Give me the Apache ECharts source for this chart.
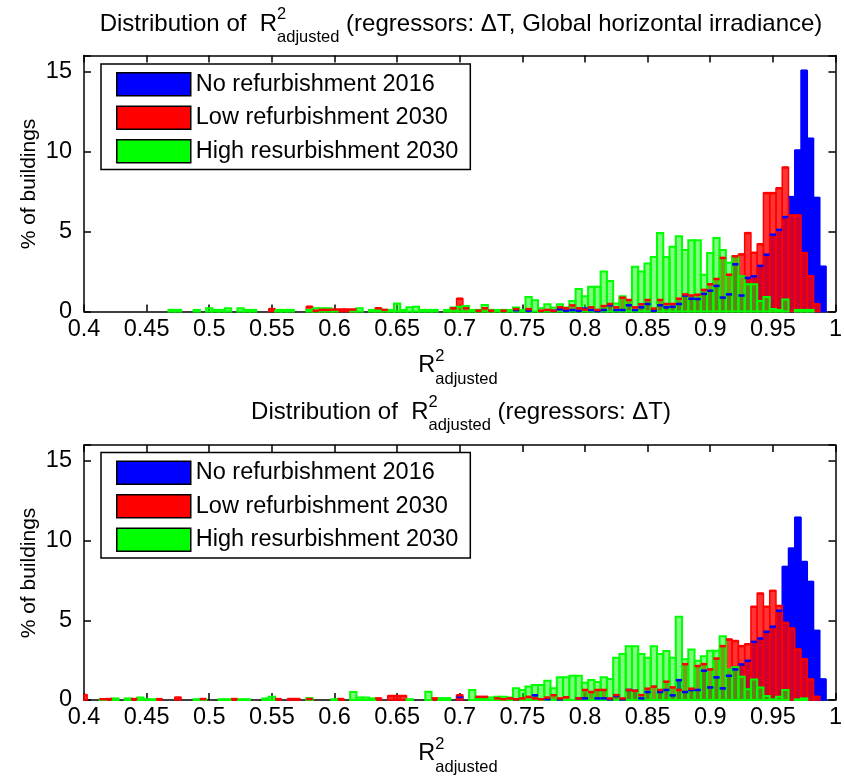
<!DOCTYPE html>
<html>
<head>
<meta charset="utf-8">
<script src="https://cdn.jsdelivr.net/npm/echarts@6/dist/echarts.min.js"></script>
<style>
html,body{margin:0;padding:0;background:#fff;}
#chart{width:845px;height:776px;}
</style>
</head>
<body>
<div id="chart"></div>
<script>
// histogram bins: centres 0.400 .. 1.000, width 0.005
const BIN_START = 0.4;
const BIN_WIDTH = 0.005;

const seriesNames = ['No refurbishment 2016', 'Low refurbishment 2030', 'High resurbishment 2030'];

// top panel (regressors: dT, global horizontal irradiance), % of buildings per bin
const topNoRefurb = [
  0,0,0,0,0,0,0,0,0,0, 0,0,0,0,0,0,0,0,0,0, 0,0,0,0,0,0,0,0,0,0,
  0,0,0,0,0,0,0,0,0,0, 0,0,0,0,0,0,0,0,0,0, 0,0,0,0,0,0,0,0,0,0,
  0,0,0,0,0,0,0,0,0,0.08, 0,0.05,0,0,0,0.05,0.14,0.05,0.09,0.05,
  0.18,0.09,0.03,0.09,0.39,0.09,0.09,0.39,0.09,0.26, 0.47,0.05,0.39,0.26,0.3,0.47,1.0,0.8,0.78,1.1,
  1.3,1.6,0.87,1.07,2.95,1.0,2.1,2.2,2.85,3.55, 4.8,5.1,5.9,7.15,10.06,15.05,10.8,7.1,2.8,0,0
];
const topLowRefurb = [
  0,0,0,0,0,0,0,0,0,0, 0,0,0,0,0,0,0,0,0,0, 0,0,0,0,0,0,0,0,0,0,
  0.15,0,0,0,0,0,0.3,0.05,0.1,0.1, 0.12,0.12,0.12,0.12,0,0,0,0.2,0.1,0, 0,0,0,0,0,0,0,0,0,0.2,
  0.8,0.2,0,0.05,0.2,0.05,0,0.05,0,0.15, 0,0.15,0,0.05,0.1,0.05,0.26,0.2,0.38,0.2,
  0.12,0.26,0.1,0.34,0.47,0.26,0.86,0.72,0.26,0.45, 0.72,0.18,0.72,0.47,0.47,0.8,1.07,1.0,1.05,1.35,
  1.7,2.03,3.35,2.3,3.45,3.57,4.9,3.67,4.2,7.4, 7.4,7.7,9.0,6.0,6.0,3.65,2.2,0.45,0,0,0
];
const topHighRefurb = [
  0,0,0,0,0,0,0,0,0,0, 0,0,0,0,0.1,0.1,0,0,0.1,0, 0.2,0.1,0.1,0.2,0,0.2,0.1,0.1,0,0,
  0,0.1,0.1,0.1,0,0,0.1,0.2,0.2,0.2, 0.1,0,0,0.1,0.2,0,0.1,0.1,0.1,0.1, 0.5,0.1,0.27,0.3,0.1,0.1,0.1,0,0.1,0.25,
  0.3,0.35,0.1,0.1,0.4,0.1,0.1,0.1,0.1,0.25, 0.1,0.9,0.7,0.2,0.45,0.25,0.45,0.25,0.65,1.4,
  0.95,1.55,1.55,2.5,1.9,0.5,0.95,0.7,2.8,2.5, 3.0,3.4,4.9,3.4,4.05,4.7,3.85,4.45,4.45,2.3,
  3.65,4.6,3.85,3.05,3.45,2.2,1.7,1.7,0.65,0.9, 0.15,0.1,0.75,0,0.1,0.1,0.1,0,0,0,0
];

// bottom panel (regressors: dT)
const botNoRefurb = [
  0,0,0,0,0,0,0,0,0,0, 0,0,0,0,0,0,0,0,0,0, 0,0,0,0,0,0,0,0,0,0,
  0,0,0,0,0,0,0,0,0,0, 0,0,0,0,0,0,0,0,0,0, 0,0,0,0,0,0,0,0,0,0,
  0.2,0,0,0,0,0,0,0,0,0.05, 0,0,0.3,0,0.05,0,0.04,0,0,0.1,
  0.1,0,0.1,0.1,0.04,0.25,0.04,0.63,0.58,0.1, 0.5,0,0.5,0.63,0.29,1.25,0.5,0.63,0.63,1.84,
  0.79,1.42,0.73,1.52,1.92,2.23,2.46,3.65,3.86,4.28, 4.6,5.6,8.35,9.5,11.44,8.66,7.41,4.34,1.29,0,0
];
const botLowRefurb = [
  0.31,0,0,0.05,0.06,0,0,0,0.06,0, 0,0,0.05,0,0,0.15,0,0,0,0.06, 0,0,0,0,0.06,0,0,0,0,0,
  0,0.06,0,0.06,0.06,0,0.06,0,0,0, 0,0.06,0,0,0,0,0,0.1,0,0.25, 0.25,0.25,0,0,0,0,0.1,0,0,0,
  0.3,0,0,0.2,0.2,0,0.1,0.05,0.1,0.05, 0.1,0.2,0.1,0.05,0.15,0.3,0.1,0.17,0,0.1,
  0.63,0.5,0.63,0.63,0.1,0.31,0.1,0.63,0.58,0.31, 0.71,0.84,0.63,1.15,0.79,0.63,2.25,0.71,2.13,2.25,
  1.92,2.6,3.38,3.8,3.7,3.38,3.5,5.85,6.68,5.85, 6.85,5.9,4.84,4.49,3.17,2.55,1.29,0.2,0,0,0
];
const botHighRefurb = [
  0,0,0,0.05,0,0.1,0,0.1,0,0.15, 0.05,0.05,0,0,0,0,0,0,0.05,0.05, 0,0,0.05,0.05,0,0.05,0.05,0,0,0.1,
  0.2,0,0,0,0,0,0.12,0,0,0, 0.05,0,0,0.5,0.15,0.15,0.1,0,0,0, 0,0,0.05,0,0,0.52,0,0.12,0.12,0,
  0,0,0.63,0.1,0.05,0.15,0.2,0.2,0.15,0.73, 0.63,0.84,0.94,0.94,1.21,0.73,1.42,1.42,1.52,1.52,
  1.09,1.25,1.13,1.42,1.32,2.65,2.88,3.38,3.38,2.88, 2.65,3.38,2.88,3.07,2.65,5.22,2.55,3.17,2.46,2.75,
  3.09,3.09,4.0,1.92,2.05,1.46,0.67,1.29,0.79,0.25, 0.04,0.2,0.63,0,0.04,0.1,0,0,0,0,0
];

const binCenters = topNoRefurb.map((_, i) => +(BIN_START + i * BIN_WIDTH).toFixed(3));

const FONT = 'Liberation Sans';
const FS = 23.5;      // axes / legend font
const TFS = 24;       // title font
const SFS = 16.5;     // sub/superscript font

const colors = {
  blue: { fill: '#0000ff', edge: '#0000ff', solid: '#0000ff' },
  red: { fill: 'rgba(255,0,0,0.8)', edge: '#ff0000', solid: '#ff0000' },
  green: { fill: 'rgba(0,255,0,0.5)', edge: '#00ff00', solid: '#00ff00' }
};

function toData(values) {
  return values.map((v, i) => [binCenters[i], v]);
}

function clipTo(params, rect) {
  const cs = params.coordSys;
  return echarts.graphic.clipRectByRect(rect, { x: cs.x, y: cs.y, width: cs.width, height: cs.height });
}

function barRenderer(c) {
  return function (params, api) {
    const x = api.value(0), v = api.value(1);
    if (!v) return null;
    const p0 = api.coord([x - BIN_WIDTH / 2, v]);
    const p1 = api.coord([x + BIN_WIDTH / 2, 0]);
    const shape = clipTo(params, { x: p0[0], y: p0[1], width: p1[0] - p0[0], height: p1[1] - p0[1] });
    if (!shape) return null;
    return { type: 'rect', shape: shape, style: { fill: c.fill, stroke: c.edge, lineWidth: c === colors.green ? 2 : 1.5 } };
  };
}

// top edges of the hidden bars stay visible through the ones in front (as in the matlab figure)
function edgeRenderer(c) {
  return function (params, api) {
    const x = api.value(0), v = api.value(1);
    if (!v) return null;
    const p0 = api.coord([x - BIN_WIDTH / 2, v]);
    const p1 = api.coord([x + BIN_WIDTH / 2, v]);
    const cs = params.coordSys;
    const x1 = Math.max(p0[0], cs.x), x2 = Math.min(p1[0], cs.x + cs.width);
    if (x2 <= x1) return null;
    return { type: 'line', shape: { x1: x1, y1: p0[1], x2: x2, y2: p0[1] }, style: { stroke: c.edge, lineWidth: 2.5 } };
  };
}

function panelSeries(g, blue, red, green) {
  const ax = { xAxisIndex: g * 2, yAxisIndex: g * 2 };
  return [
    { name: seriesNames[0], type: 'custom', ...ax, z: 2, renderItem: barRenderer(colors.blue), itemStyle: { color: colors.blue.solid }, data: toData(blue) },
    { name: seriesNames[1], type: 'custom', ...ax, z: 3, renderItem: barRenderer(colors.red), itemStyle: { color: colors.red.solid }, data: toData(red) },
    { name: seriesNames[2], type: 'custom', ...ax, z: 4, renderItem: barRenderer(colors.green), itemStyle: { color: colors.green.solid }, data: toData(green) },
    { name: 'edgeB', type: 'custom', ...ax, z: 5, renderItem: edgeRenderer(colors.blue), data: toData(blue) },
    { name: 'edgeR', type: 'custom', ...ax, z: 5, renderItem: edgeRenderer(colors.red), data: toData(red) }
  ];
}

const grids = [
  { left: 84, top: 55.5, width: 758.5, height: 256 },
  { left: 84, top: 445, width: 758.5, height: 255 }
];

const axisLine = { onZero: false, lineStyle: { color: '#000', width: 1.5 } };
const axisTick = { inside: true, length: 7, lineStyle: { color: '#000', width: 1.5 } };

function xAxes(g) {
  const base = { type: 'value', gridIndex: g, min: 0.4, max: 1, interval: 0.05, axisLine: axisLine, axisTick: axisTick, splitLine: { show: false } };
  return [
    { ...base, position: 'bottom', axisLabel: { margin: 6, color: '#000', fontFamily: FONT, fontSize: FS, formatter: v => String(Math.round(v * 100) / 100) } },
    { ...base, position: 'top', axisLabel: { show: false } }
  ];
}
function yAxes(g) {
  const base = { type: 'value', gridIndex: g, min: 0, max: 16, interval: 5, axisLine: { ...axisLine, show: true }, axisTick: axisTick, splitLine: { show: false } };
  return [
    { ...base, position: 'left', axisLabel: { margin: 12, color: '#000', fontFamily: FONT, fontSize: FS, formatter: v => (v % 5 === 0 ? String(v) : '') } },
    { ...base, position: 'right', axisLabel: { show: false } }
  ];
}

function legend(top) {
  return {
    orient: 'vertical', left: 101, top: top, padding: [8, 12, 6, 15],
    backgroundColor: '#fff', borderColor: '#000', borderWidth: 1.5, borderRadius: 0,
    itemWidth: 74, itemHeight: 23, itemGap: 9, selectedMode: false,
    textStyle: { color: '#000', fontFamily: FONT, fontSize: FS, lineHeight: 23 },
    data: [
      { name: seriesNames[0], icon: 'rect', itemStyle: { color: colors.blue.solid, borderColor: '#000', borderWidth: 1.5, opacity: 1 } },
      { name: seriesNames[1], icon: 'rect', itemStyle: { color: colors.red.solid, borderColor: '#000', borderWidth: 1.5, opacity: 1 } },
      { name: seriesNames[2], icon: 'rect', itemStyle: { color: colors.green.solid, borderColor: '#000', borderWidth: 1.5, opacity: 1 } }
    ]
  };
}

// R^2_{adjusted} style labels built from text pieces
const measureCtx = document.createElement('canvas').getContext('2d');
function textWidth(s, size) {
  measureCtx.font = size + 'px "' + FONT + '"';
  return measureCtx.measureText(s).width;
}
function scriptLabel(cx, cy, pre, post, size) {
  const wPre = textWidth(pre, size), wR = textWidth('R', size);
  const wScript = Math.max(textWidth('2', SFS), textWidth('adjusted', SFS));
  const wPost = textWidth(post, size);
  let x = cx - (wPre + wR + wScript + wPost) / 2;
  const st = { fill: '#000', fontFamily: FONT, align: 'left', verticalAlign: 'middle' };
  const out = [];
  out.push({ type: 'text', x: x, y: cy, style: { ...st, text: pre, fontSize: size } });
  x += wPre;
  out.push({ type: 'text', x: x, y: cy, style: { ...st, text: 'R', fontSize: size } });
  x += wR;
  out.push({ type: 'text', x: x, y: cy - 10, style: { ...st, text: '2', fontSize: SFS } });
  out.push({ type: 'text', x: x, y: cy + 13, style: { ...st, text: 'adjusted', fontSize: SFS } });
  x += wScript;
  out.push({ type: 'text', x: x, y: cy, style: { ...st, text: post, fontSize: size } });
  return out;
}

function yTitle(cy) {
  return {
    type: 'text', x: 29, y: cy, rotation: Math.PI / 2,
    style: { text: '% of buildings', fill: '#000', fontFamily: FONT, fontSize: 21, align: 'center', verticalAlign: 'middle' }
  };
}

const midX = 461;
const graphics = [].concat(
  scriptLabel(midX, 24, 'Distribution of  ', ' (regressors: \u0394T, Global horizontal irradiance)', TFS),
  scriptLabel(midX - 3, 366, '', '', FS),
  scriptLabel(midX, 412, 'Distribution of  ', ' (regressors: \u0394T)', TFS),
  scriptLabel(midX - 3, 754, '', '', FS),
  [yTitle(184), yTitle(573)]
);

const chart = echarts.init(document.getElementById('chart'));
chart.setOption({
  animation: false,
  backgroundColor: '#fff',
  grid: grids,
  xAxis: [].concat(xAxes(0), xAxes(1)),
  yAxis: [].concat(yAxes(0), yAxes(1)),
  legend: [legend(64), legend(452.5)],
  series: [].concat(
    panelSeries(0, topNoRefurb, topLowRefurb, topHighRefurb),
    panelSeries(1, botNoRefurb, botLowRefurb, botHighRefurb)
  ),
  graphic: graphics
});
</script>
</body>
</html>
